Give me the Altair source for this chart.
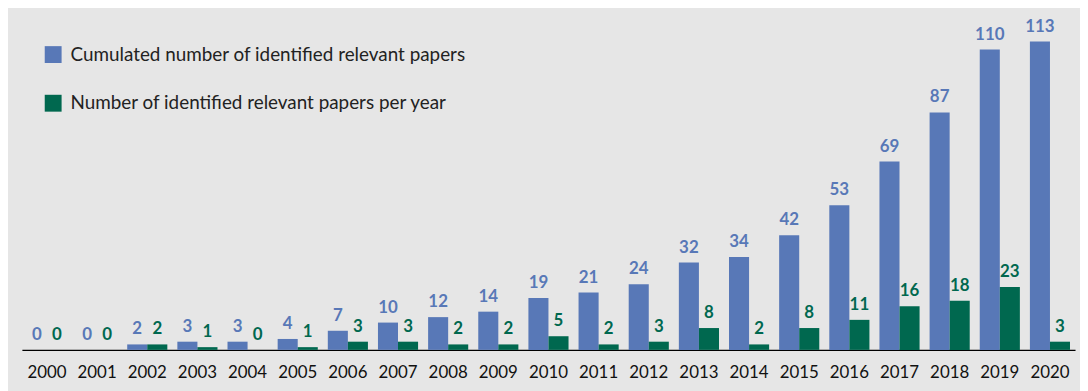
import altair as alt
import pandas as pd

years = [str(y) for y in range(2000, 2021)]
cumulated = [0, 0, 2, 3, 3, 4, 7, 10, 12, 14, 19, 21, 24, 32, 34, 42, 53, 69, 87, 110, 113]
per_year = [0, 0, 2, 1, 0, 1, 3, 3, 2, 2, 5, 2, 3, 8, 2, 8, 11, 16, 18, 23, 3]

s1 = "Cumulated number of identified relevant papers"
s2 = "Number of identified relevant papers per year"
series = [s1, s2]
colors = ["#5878B7", "#00684F"]

rows = []
for i, y in enumerate(years):
    rows.append({"year": y, "series": s1, "value": cumulated[i]})
    rows.append({"year": y, "series": s2, "value": per_year[i]})
df = pd.DataFrame(rows)

FONT = "Lato"

x = alt.X("year:N", sort=years, title=None,
          scale=alt.Scale(paddingInner=0.2, paddingOuter=0.1),
          axis=alt.Axis(labelAngle=0, ticks=False, domainColor="#000000", domainWidth=1.5,
                        labelFontSize=17, labelColor="#111111", labelFont=FONT, labelPadding=15))
xo = alt.XOffset("series:N", sort=series, scale=alt.Scale(paddingInner=0, paddingOuter=0))
y = alt.Y("value:Q", scale=alt.Scale(domain=[0, 120], nice=False), axis=None)
color = alt.Color("series:N", sort=series,
                  scale=alt.Scale(domain=series, range=colors),
                  legend=alt.Legend(title=None, orient="none", legendX=22, legendY=23,
                                    symbolType="square", symbolSize=289, symbolStrokeWidth=0,
                                    symbolOpacity=1, labelFontSize=19, labelFont=FONT,
                                    labelColor="#222222", rowPadding=29, labelOffset=8,
                                    padding=0, labelLimit=700))

base = alt.Chart(df)
bars = base.mark_bar().encode(x=x, xOffset=xo, y=y, color=color)
labels = base.mark_text(baseline="bottom", dy=-6, fontSize=17, fontWeight="bold", font=FONT).encode(
    x=x, xOffset=xo, y=y, text="value:Q",
    color=alt.Color("series:N", sort=series, scale=alt.Scale(domain=series, range=colors), legend=None))

chart = alt.layer(bars, labels).properties(
    width=1061, height=330,
    autosize=alt.AutoSizeParams(type="none"),
    padding={"left": 14, "top": 13, "right": 5, "bottom": 40},
    background="#E6E6E6",
).configure_view(stroke=None)

chart.save("out.html", embed_options={"renderer": "svg", "actions": False})
